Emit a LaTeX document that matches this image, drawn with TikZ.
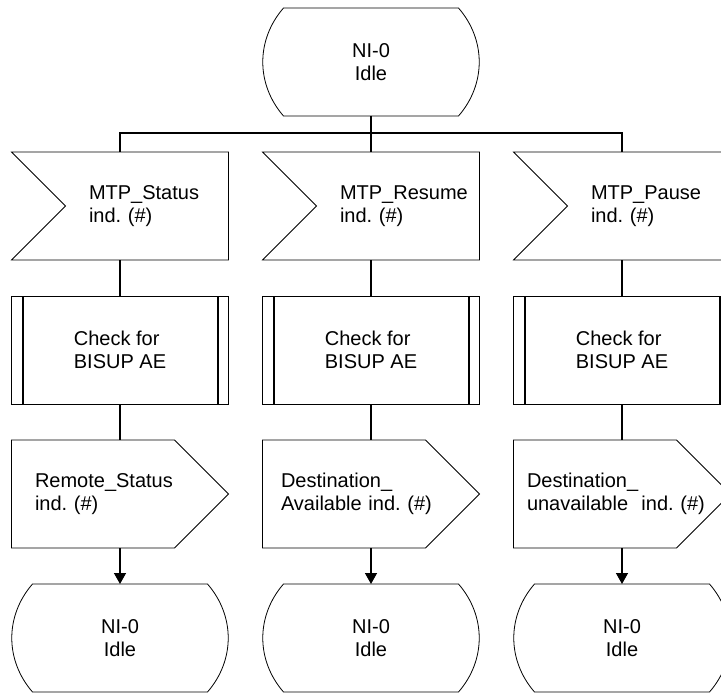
\documentclass[tikz,border=0pt]{standalone}
\usepackage{fontspec}
\setmainfont{Liberation Sans}
\usetikzlibrary{arrows.meta}

\tikzset{
  box/.style={minimum width=217pt, minimum height=108pt, inner sep=0pt, outer sep=0pt,
    font=\fontsize{20}{23.5}\selectfont\frenchspacing},
  idle/.style={box, align=center},
  recv/.style={box, text width=62pt, align=left},
  proc/.style={box, align=left},
  send/.style={box, text width=180pt, align=left},
  outline/.style={line width=0.8pt},
  bar/.style={line width=2pt},
  link/.style={line width=1.4pt},
  tip/.style={-{Triangle[length=11pt,width=12pt]}},
}
\newcommand{\idleshape}[1]{\draw[outline] ([xshift=21pt]#1.north west) -- ([xshift=-21pt]#1.north east)
  to[bend left=41] ([xshift=-21pt]#1.south east) -- ([xshift=21pt]#1.south west)
  to[bend left=41] ([xshift=21pt]#1.north west) -- cycle;}
\newcommand{\recvshape}[1]{\draw[outline] (#1.north west) -- (#1.north east) -- (#1.south east)
  -- (#1.south west) -- ([xshift=54pt]#1.west) -- cycle;}
\newcommand{\procshape}[1]{\draw[outline] (#1.north west) rectangle (#1.south east);
  \draw[bar] ([xshift=11pt]#1.north west) -- ([xshift=11pt]#1.south west);
  \draw[bar] ([xshift=-11pt]#1.north east) -- ([xshift=-11pt]#1.south east);}
\newcommand{\sendshape}[1]{\draw[outline] (#1.north west) -- ([xshift=-54pt]#1.north east) -- (#1.east)
  -- ([xshift=-54pt]#1.south east) -- (#1.south west) -- cycle;}

\begin{document}
\begin{tikzpicture}[x=1pt, y=-1pt]
\useasboundingbox (0,0) rectangle (721,693);
\draw (371,62) node[idle] (s0) {NI-0\\Idle}; \idleshape{s0}
\draw (s0)++(0,71) coordinate (bus);
\draw (s0)++(-251,144) node[recv] (r1) {MTP\_Status\\ind.~(\#)}; \recvshape{r1}
\draw (s0)++(0,144) node[recv] (r2) {MTP\_Resume\\ind.~(\#)}; \recvshape{r2}
\draw (s0)++(251,144) node[recv] (r3) {MTP\_Pause\\ind.~(\#)}; \recvshape{r3}
\draw[link] (s0) -- (r2);
\draw[link] (r1.north) |- (bus) -| (r3.north);
\draw (r1)++(0,144) node[proc] (p1) {Check for\\BISUP AE}; \procshape{p1} \draw[link] (r1) -- (p1);
\draw (r2)++(0,144) node[proc] (p2) {Check for\\BISUP AE}; \procshape{p2} \draw[link] (r2) -- (p2);
\draw (r3)++(0,144) node[proc] (p3) {Check for\\BISUP AE}; \procshape{p3} \draw[link] (r3) -- (p3);
\draw (p1)++(0,144) node[send, text width=170pt] (t1) {Remote\_Status\\ind. (\#)}; \sendshape{t1} \draw[link] (p1) -- (t1);
\draw (p2)++(0,144) node[send] (t2) {Destination\_\\Available ind. (\#)}; \sendshape{t2} \draw[link] (p2) -- (t2);
\draw (p3)++(0,144) node[send, text width=190pt] (t3) {Destination\_\\unavailable~ ind. (\#)}; \sendshape{t3} \draw[link] (p3) -- (t3);
\draw (t1)++(0,144) node[idle] (e1) {NI-0\\Idle}; \idleshape{e1} \draw[link,tip] (t1) -- (e1);
\draw (t2)++(0,144) node[idle] (e2) {NI-0\\Idle}; \idleshape{e2} \draw[link,tip] (t2) -- (e2);
\draw (t3)++(0,144) node[idle] (e3) {NI-0\\Idle}; \idleshape{e3} \draw[link,tip] (t3) -- (e3);
% \draw (bus) -- (r2);
\end{tikzpicture}
\end{document}
